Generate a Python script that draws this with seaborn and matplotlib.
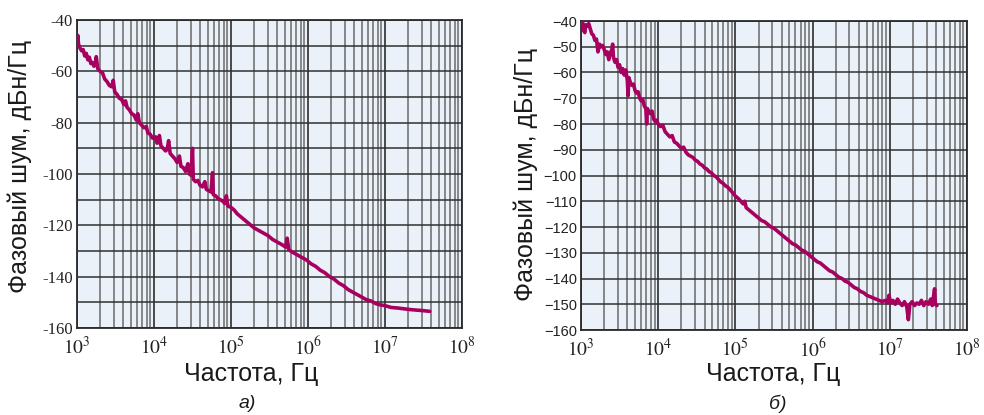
import numpy as np
import pandas as pd
import matplotlib
matplotlib.use("Agg")
import matplotlib.pyplot as plt
import matplotlib.ticker as mticker
import seaborn as sns

# ---------------- data ----------------
# panel a): log10(frequency, Hz) and phase noise, dBc/Hz
a_logf = [3.00, 3.01, 3.02, 3.04, 3.06, 3.08, 3.10, 3.12, 3.14, 3.16, 3.18, 3.20, 3.22, 3.24,
          3.25, 3.27, 3.30, 3.33, 3.36, 3.39, 3.42, 3.45, 3.47, 3.49, 3.52, 3.55, 3.58, 3.61,
          3.63, 3.65, 3.68, 3.71, 3.74, 3.77, 3.79, 3.81, 3.84, 3.87, 3.90, 3.92, 3.95, 3.98,
          4.00, 4.02, 4.04, 4.06, 4.07, 4.09, 4.12, 4.15, 4.17, 4.19, 4.21, 4.24, 4.27, 4.30,
          4.33, 4.35, 4.38, 4.41, 4.44, 4.46, 4.48, 4.50, 4.51, 4.54, 4.57, 4.60, 4.63, 4.66,
          4.68, 4.71, 4.74, 4.76, 4.77, 4.80, 4.83, 4.86, 4.89, 4.92, 4.94, 4.96, 5.00, 5.04,
          5.08, 5.12, 5.18, 5.24, 5.30, 5.36, 5.42, 5.48, 5.54, 5.60, 5.66, 5.71, 5.73, 5.75,
          5.80, 5.86, 5.92, 5.98, 6.04, 6.10, 6.16, 6.22, 6.28, 6.34, 6.40, 6.46, 6.52, 6.58,
          6.64, 6.70, 6.76, 6.82, 6.88, 6.94, 7.00, 7.08, 7.16, 7.24, 7.32, 7.40, 7.48, 7.58]
a_db = [-50.0, -46.0, -49.5, -51.0, -52.0, -51.5, -54.0, -53.0, -55.5, -54.5, -57.0, -56.5, -58.0, -57.0,
        -54.3, -59.0, -60.0, -60.5, -63.0, -64.0, -65.5, -66.0, -63.5, -68.0, -69.0, -70.5, -71.0, -73.0,
        -71.5, -74.0, -75.0, -76.5, -77.0, -79.0, -76.5, -80.0, -81.0, -82.0, -81.5, -84.0, -84.5, -86.0,
        -86.0, -85.5, -88.0, -87.5, -85.0, -89.0, -90.0, -91.0, -90.5, -87.0, -92.0, -93.0, -94.0, -95.5,
        -93.0, -97.0, -97.5, -99.0, -96.0, -100.0, -100.5, -90.0, -102.0, -103.0, -102.5, -104.5, -105.0, -103.0,
        -106.0, -106.5, -107.0, -99.5, -108.0, -108.5, -109.5, -110.0, -110.5, -111.5, -108.5, -112.5, -113.0, -114.0,
        -115.5, -116.5, -118.0, -119.5, -121.0, -122.0, -123.0, -124.0, -125.5, -126.5, -127.5, -128.5, -125.0, -129.5,
        -130.5, -131.5, -132.5, -133.5, -135.0, -136.0, -137.5, -138.5, -140.0, -141.0, -142.5, -143.5, -145.0, -146.0,
        -147.0, -148.0, -149.0, -149.5, -150.5, -151.0, -151.3, -152.0, -152.2, -152.5, -152.8, -153.0, -153.2, -153.5]

# panel б)
b_logf = [3.00, 3.01, 3.02, 3.03, 3.05, 3.06, 3.08, 3.10, 3.12, 3.14, 3.16, 3.18, 3.20, 3.22,
          3.24, 3.26, 3.28, 3.30, 3.32, 3.34, 3.36, 3.38, 3.40, 3.41, 3.42, 3.44, 3.46, 3.48,
          3.50, 3.52, 3.54, 3.56, 3.58, 3.60, 3.61, 3.62, 3.64, 3.66, 3.68, 3.70, 3.72, 3.74,
          3.76, 3.78, 3.80, 3.82, 3.84, 3.85, 3.86, 3.88, 3.90, 3.92, 3.94, 3.96, 3.98, 4.00,
          4.03, 4.06, 4.09, 4.12, 4.15, 4.18, 4.21, 4.24, 4.27, 4.30, 4.33, 4.36, 4.39, 4.42,
          4.45, 4.48, 4.51, 4.54, 4.57, 4.60, 4.63, 4.66, 4.69, 4.72, 4.75, 4.78, 4.81, 4.84,
          4.87, 4.90, 4.93, 4.96, 5.00, 5.04, 5.07, 5.10, 5.12, 5.14, 5.18, 5.22, 5.26, 5.30,
          5.34, 5.38, 5.42, 5.46, 5.50, 5.54, 5.58, 5.62, 5.66, 5.70, 5.74, 5.78, 5.82, 5.86,
          5.90, 5.94, 5.98, 6.02, 6.06, 6.10, 6.14, 6.18, 6.22, 6.26, 6.30, 6.34, 6.38, 6.42,
          6.46, 6.50, 6.54, 6.58, 6.62, 6.66, 6.70, 6.74, 6.78, 6.82, 6.86, 6.90, 6.94, 6.97,
          6.99, 7.01, 7.04, 7.07, 7.10, 7.13, 7.16, 7.19, 7.22, 7.24, 7.26, 7.29, 7.32, 7.35,
          7.38, 7.41, 7.44, 7.47, 7.50, 7.53, 7.55, 7.58, 7.59, 7.61]
b_db = [-40.0, -41.5, -40.5, -43.5, -44.5, -41.5, -42.0, -41.0, -43.0, -45.0, -45.5, -47.5, -47.0, -52.0,
        -49.0, -50.0, -49.5, -51.0, -53.0, -52.0, -55.0, -52.5, -51.0, -49.0, -54.0, -56.0, -55.0, -58.0,
        -57.0, -60.0, -58.5, -61.0, -59.0, -63.0, -69.0, -62.0, -64.0, -65.0, -64.5, -67.0, -68.0, -67.5,
        -70.0, -71.0, -70.5, -73.0, -74.0, -80.0, -74.0, -75.5, -76.0, -75.0, -78.0, -79.0, -78.5, -80.0,
        -81.0, -80.5, -83.0, -84.0, -85.0, -84.5, -87.0, -87.5, -88.5, -89.5, -89.0, -91.0, -92.0, -92.5,
        -93.0, -94.0, -94.5, -95.5, -96.0, -97.0, -97.5, -98.5, -99.0, -100.0, -100.5, -101.5, -102.5, -103.0,
        -104.0, -104.5, -105.5, -106.5, -108.0, -109.0, -110.0, -111.0, -110.0, -112.5, -113.5, -114.5, -115.5, -116.5,
        -117.5, -118.0, -119.0, -120.0, -120.5, -121.5, -122.5, -123.5, -124.5, -125.5, -126.5, -127.0, -128.0, -129.0,
        -129.5, -130.5, -131.5, -132.5, -133.5, -134.0, -135.0, -136.0, -137.0, -137.5, -138.5, -139.5, -140.0, -141.0,
        -141.5, -142.5, -143.5, -144.0, -145.0, -145.5, -146.5, -147.0, -147.5, -148.0, -148.5, -149.0, -148.5, -149.5,
        -146.5, -149.5, -148.5, -150.0, -148.0, -149.5, -150.5, -149.0, -151.0, -156.0, -150.0, -149.0, -150.5, -149.5,
        -150.0, -148.5, -150.5, -149.0, -150.0, -148.0, -150.5, -144.0, -150.0, -150.5]

x_decades = [3, 4, 5, 6, 7, 8]
a_yticks = [-40, -60, -80, -100, -120, -140, -160]
a_ytick_labels = ["-40", "-60", "-80", "-100", "-120", "-140", "-160"]
b_yticks = [-40, -50, -60, -70, -80, -90, -100, -110, -120, -130, -140, -150, -160]
b_ytick_labels = ["\u221240", "\u221250", "\u221260", "\u221270", "\u221280", "\u221290", "\u2212100",
                  "\u2212110", "\u2212120", "\u2212130", "\u2212140", "\u2212150", "\u2212160"]
ylabel_text = "Фазовый шум, дБн/Гц"
xlabel_text = "Частота, Гц"
captions = ["а)", "б)"]

# ---------------- style ----------------
sns.set_style("white")
plt.rcParams["font.family"] = ["Liberation Sans", "DejaVu Sans"]
plt.rcParams["mathtext.fontset"] = "stix"

LINE = "#A8005F"
BG = "#EBF1F9"
MAJ = "#1c1c1c"
MIN = "#6a6a6a"

fig = plt.figure(figsize=(9.84, 4.15), dpi=100)
ax_a = fig.add_axes([77 / 984, 1 - 328 / 415, 385 / 984, 308 / 415])
ax_b = fig.add_axes([581 / 984, 1 - 330 / 415, 386 / 984, 309 / 415])

df_a = pd.DataFrame({"f": np.power(10.0, a_logf), "db": a_db})
df_b = pd.DataFrame({"f": np.power(10.0, b_logf), "db": b_db})

for ax, df, yt, ytl, serif in [(ax_a, df_a, a_yticks, a_ytick_labels, True),
                               (ax_b, df_b, b_yticks, b_ytick_labels, False)]:
    ax.set_facecolor(BG)
    ax.set_xscale("log")
    ax.set_xlim(1e3, 1e8)
    ax.set_ylim(-160, -40)
    sns.lineplot(data=df, x="f", y="db", ax=ax, color=LINE, lw=2.6,
                 estimator=None, sort=False, zorder=5)
    ax.set_xlabel("")
    ax.set_ylabel("")
    ax.set_xticks([10.0 ** d for d in x_decades])
    ax.set_xticklabels([rf"$10^{{{d}}}$" for d in x_decades])
    ax.xaxis.set_minor_locator(mticker.LogLocator(base=10, subs=np.arange(2, 10)))
    ax.xaxis.set_minor_formatter(mticker.NullFormatter())
    ax.set_yticks(yt)
    ax.set_yticklabels(ytl)
    ax.yaxis.set_minor_locator(mticker.MultipleLocator(10))
    ax.grid(which="major", axis="x", color=MAJ, lw=1.1, zorder=1)
    ax.grid(which="minor", axis="x", color=MIN, lw=1.1, zorder=1)
    ax.grid(which="both", axis="y", color="#303030", lw=1.1, zorder=1)
    ax.set_axisbelow(True)
    ax.tick_params(which="both", length=0)
    ax.tick_params(axis="x", pad=6, labelsize=14, colors="#222222")
    if serif:
        ax.tick_params(axis="y", pad=3, labelsize=12, labelfontfamily="Liberation Serif",
                       colors="#222222")
    else:
        ax.tick_params(axis="y", pad=3, labelsize=10.5, labelfontfamily="Liberation Sans",
                       colors="#222222")
    for s in ax.spines.values():
        s.set_color("#2a2a2a")
        s.set_linewidth(1.3)
        s.set_visible(True)

# axis titles and captions
fig.text(20 / 984, 1 - 166 / 415, ylabel_text, rotation=90, ha="center", va="center",
         fontsize=18, color="#1a1a1a")
fig.text(526 / 984, 1 - 174 / 415, ylabel_text, rotation=90, ha="center", va="center",
         fontsize=18, color="#1a1a1a")
fig.text(251 / 984, 1 - 374 / 415, xlabel_text, ha="center", va="center",
         fontsize=18, color="#1a1a1a")
fig.text(773 / 984, 1 - 374 / 415, xlabel_text, ha="center", va="center",
         fontsize=18, color="#1a1a1a")
fig.text(247 / 984, 1 - 403 / 415, captions[0], ha="center", va="center",
         fontsize=14, style="italic", color="#1a1a1a")
fig.text(778 / 984, 1 - 404 / 415, captions[1], ha="center", va="center",
         fontsize=14, style="italic", color="#1a1a1a")

fig.savefig("out.png", dpi=100, facecolor="white")
